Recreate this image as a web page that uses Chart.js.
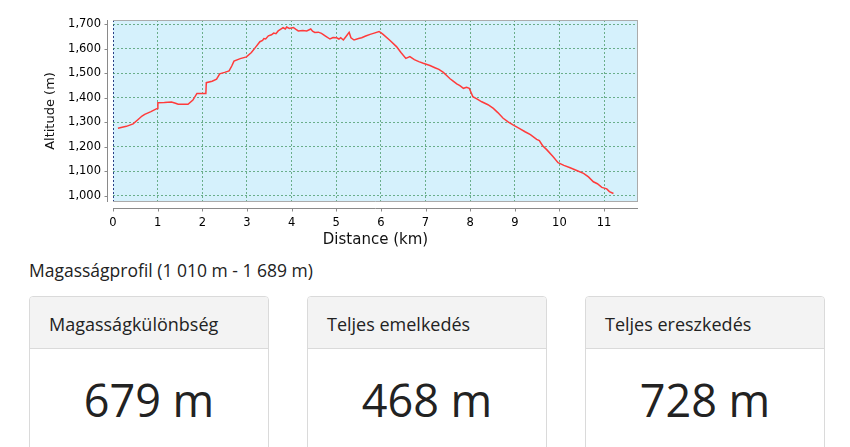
<!DOCTYPE html>
<html>
<head>
<meta charset="utf-8">
<script src="https://cdn.jsdelivr.net/npm/chart.js@4.4.1/dist/chart.umd.min.js"></script>
<style>
  body { margin: 0; background: #fff; font-family: "Open Sans", sans-serif; color: #222; }
  #chartBox { position: absolute; left: 0; top: 0; width: 650px; height: 252px; }
  .profTitle { position: absolute; left: 29px; top: 258px; font-size: 17.5px; line-height: normal; white-space: nowrap; }
  .card { position: absolute; top: 296px; width: 240px; height: 200px; box-sizing: border-box;
          border: 1px solid #dadada; border-radius: 4px; overflow: hidden; background: #fff; }
  .card .head { height: 52px; box-sizing: border-box; background: #f3f3f3; border-bottom: 1px solid #dadada;
                padding: 14.8px 0 0 19px; font-size: 18px; line-height: normal; white-space: nowrap; }
  .card .val { position: absolute; left: 0; right: 0; top: 72px; text-align: center; font-size: 45px; line-height: normal; }
</style>
</head>
<body>
<div id="chartBox"><canvas id="profileChart" width="650" height="252"></canvas></div>
<div class="profTitle">Magasságprofil (1 010 m - 1 689 m)</div>
<div class="card" style="left:29px"><div class="head">Magasságkülönbség</div><div class="val">679 m</div></div>
<div class="card" style="left:307px"><div class="head">Teljes emelkedés</div><div class="val">468 m</div></div>
<div class="card" style="left:585px"><div class="head">Teljes ereszkedés</div><div class="val">728 m</div></div>

<script>
// távolság (km) és magasság (m)
const distKm = [0.11, 0.30, 0.45, 0.55, 0.65, 0.71, 0.85, 0.97, 1.00, 1.005, 1.15, 1.31, 1.40, 1.46, 1.68, 1.79, 1.88, 2.08, 2.09,
  2.22, 2.32, 2.39, 2.50, 2.60, 2.66, 2.71, 2.85, 2.99, 3.10, 3.20, 3.29, 3.35, 3.38, 3.42, 3.48, 3.55, 3.60, 3.65, 3.70,
  3.76, 3.81, 3.86, 3.89, 3.95, 4.04, 4.09, 4.15, 4.25, 4.34, 4.43, 4.47, 4.52, 4.60, 4.67, 4.76, 4.86, 4.93, 5.01, 5.06,
  5.10, 5.16, 5.22, 5.29, 5.33, 5.40, 5.50, 5.57, 5.66, 5.76, 5.85, 5.96, 6.00, 6.05, 6.20, 6.35, 6.45, 6.56, 6.65, 6.75,
  6.85, 6.95, 7.10, 7.21, 7.30, 7.40, 7.48, 7.55, 7.62, 7.70, 7.77, 7.85, 7.92, 7.98, 8.06, 8.15, 8.26, 8.40, 8.52, 8.62,
  8.74, 8.85, 8.97, 9.10, 9.23, 9.35, 9.49, 9.55, 9.62, 9.72, 9.85, 9.97, 10.10, 10.24, 10.40, 10.54, 10.65, 10.76, 10.85,
  10.95, 11.06, 11.12, 11.21];
const altM = [1276, 1284, 1294, 1310, 1326, 1333, 1344, 1355, 1357, 1380, 1381, 1383, 1378, 1374, 1374, 1391, 1418, 1418, 1462,
  1468, 1476, 1498, 1504, 1510, 1530, 1550, 1560, 1567, 1585, 1608, 1629, 1634, 1642, 1640, 1653, 1657, 1664, 1662, 1673,
  1680, 1686, 1681, 1689, 1683, 1687, 1680, 1673, 1675, 1673, 1681, 1672, 1667, 1668, 1663, 1652, 1640, 1646, 1645, 1640,
  1645, 1636, 1650, 1667, 1645, 1636, 1642, 1645, 1652, 1659, 1664, 1670, 1666, 1659, 1635, 1609, 1585, 1561, 1568, 1556,
  1548, 1541, 1532, 1523, 1516, 1504, 1490, 1478, 1468, 1457, 1450, 1439, 1443, 1439, 1405, 1396, 1384, 1372, 1357, 1340,
  1317, 1302, 1289, 1276, 1262, 1250, 1231, 1226, 1206, 1188, 1162, 1136, 1125, 1115, 1103, 1092, 1078, 1058, 1050,
  1035, 1029, 1018, 1010];
const xTicks = [0, 1, 2, 3, 4, 5, 6, 7, 8, 9, 10, 11];
const yTicks = [1000, 1100, 1200, 1300, 1400, 1500, 1600, 1700];
const xTitle = 'Distance (km)';
const yTitle = 'Altitude (m)';

const points = distKm.map((d, i) => ({ x: d, y: altM[i] }));

// háttér, keret és eltolt tengelyvonalak
const plotFrame = {
  id: 'plotFrame',
  beforeDraw(chart) {
    const { ctx, chartArea: a } = chart;
    ctx.save();
    ctx.fillStyle = '#d5f1fc';
    ctx.fillRect(a.left, a.top, a.right - a.left, a.bottom - a.top);
    ctx.restore();
  },
  beforeDatasetsDraw(chart) {
    const { ctx, chartArea: a, scales } = chart;
    const line = (x1, y1, x2, y2) => { ctx.beginPath(); ctx.moveTo(x1, y1); ctx.lineTo(x2, y2); ctx.stroke(); };
    ctx.save();
    ctx.lineWidth = 1;
    ctx.strokeStyle = '#ababab';
    line(a.left, a.top + 0.5, a.right, a.top + 0.5);
    line(a.right - 0.5, a.top, a.right - 0.5, a.bottom);
    line(a.left, a.bottom - 0.5, a.right, a.bottom - 0.5);
    ctx.strokeStyle = '#8a8a8a';
    const ax = a.left - 6 + 0.5, ay = a.bottom + 6 + 0.5;
    line(ax, a.top, ax, a.bottom);
    line(a.left, ay, a.right, ay);
    yTicks.forEach(v => { const y = Math.round(scales.y.getPixelForValue(v)) + 0.5; line(ax - 3, y, ax, y); });
    xTicks.forEach(v => { const x = Math.round(scales.x.getPixelForValue(v)) + 0.5; line(x, ay, x, ay + 3); });
    ctx.restore();
  }
};

const gridColor = c => (c.tick && c.tick.value === 0 && c.scale.axis === 'x') ? '#2b3f86' : 'rgba(60,145,90,0.7)';

new Chart(document.getElementById('profileChart'), {
  type: 'line',
  data: {
    datasets: [{
      data: points,
      borderColor: '#ff3b3b',
      borderWidth: 1.5,
      pointRadius: 0,
      tension: 0,
      fill: false
    }]
  },
  options: {
    responsive: false,
    animation: false,
    events: [],
    layout: { padding: { left: 0, top: 20, right: 12, bottom: 0 } },
    plugins: { legend: { display: false }, tooltip: { enabled: false } },
    scales: {
      x: {
        type: 'linear',
        min: 0,
        max: 11.76,
        afterBuildTicks: s => { s.ticks = xTicks.map(v => ({ value: v })); },
        afterFit: s => { s.height = 50; },
        border: { display: false, dash: [2, 2] },
        grid: { color: gridColor, drawTicks: false, lineWidth: 1 },
        ticks: { padding: 14, color: '#000', font: { family: 'DejaVu Sans', size: 11.5 }, callback: v => String(v) },
        title: { display: true, text: xTitle, color: '#111', font: { family: 'DejaVu Sans', size: 15 }, padding: { top: 0, bottom: 2.5 } }
      },
      y: {
        min: 975.5,
        max: 1717.5,
        afterBuildTicks: s => { s.ticks = yTicks.map(v => ({ value: v })); },
        afterFit: s => { s.width = 113; },
        border: { display: false, dash: [2, 2] },
        grid: { color: gridColor, drawTicks: false, lineWidth: 1 },
        ticks: { padding: 12, color: '#000', font: { family: 'DejaVu Sans', size: 11.5 }, callback: v => v.toLocaleString('en-US') },
        title: { display: true, text: yTitle, color: '#111', font: { family: 'DejaVu Sans', size: 13 }, padding: { top: 43, bottom: 0 } }
      }
    }
  },
  plugins: [plotFrame]
});
</script>
</body>
</html>
